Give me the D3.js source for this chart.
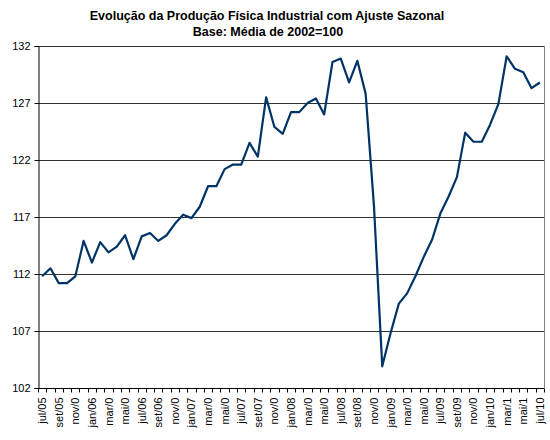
<!DOCTYPE html>
<html>
<head>
<meta charset="utf-8">
<script src="https://cdn.jsdelivr.net/npm/d3@7"></script>
<style>
  body { margin: 0; background: #fff; }
  svg text { font-family: "Liberation Sans", Arial, sans-serif; }
</style>
</head>
<body>
<script>
// monthly index, jul/05 .. jul/10
var months = ["jul/05","ago/05","set/05","out/05","nov/05","dez/05","jan/06","fev/06","mar/06","abr/06",
  "mai/06","jun/06","jul/06","ago/06","set/06","out/06","nov/06","dez/06","jan/07","fev/07",
  "mar/07","abr/07","mai/07","jun/07","jul/07","ago/07","set/07","out/07","nov/07","dez/07",
  "jan/08","fev/08","mar/08","abr/08","mai/08","jun/08","jul/08","ago/08","set/08","out/08",
  "nov/08","dez/08","jan/09","fev/09","mar/09","abr/09","mai/09","jun/09","jul/09","ago/09",
  "set/09","out/09","nov/09","dez/09","jan/10","fev/10","mar/10","abr/10","mai/10","jun/10","jul/10"];

var values = [111.8, 112.5, 111.2, 111.2, 111.8, 114.9, 113.0, 114.8, 113.9, 114.4,
  115.4, 113.3, 115.3, 115.6, 114.9, 115.4, 116.4, 117.2, 116.9, 117.9,
  119.7, 119.7, 121.2, 121.6, 121.6, 123.5, 122.3, 127.5, 124.9, 124.3,
  126.2, 126.2, 127.0, 127.4, 126.0, 130.6, 130.9, 128.8, 130.7, 127.8,
  118.0, 103.9, 106.8, 109.4, 110.3, 111.8, 113.5, 115.0, 117.3, 118.8,
  120.5, 124.4, 123.6, 123.6, 125.1, 126.9, 131.1, 130.0, 129.7, 128.3, 128.8];

// labels as shown on the axis (every second month)
var tickLabels = {0:"jul/05",2:"set/05",4:"nov/0",6:"jan/06",8:"mar/0",10:"mai/0",12:"jul/06",14:"set/06",
  16:"nov/0",18:"jan/07",20:"mar/0",22:"mai/0",24:"jul/07",26:"set/07",28:"nov/0",30:"jan/08",32:"mar/0",
  34:"mai/0",36:"jul/08",38:"set/08",40:"nov/0",42:"jan/09",44:"mar/0",46:"mai/0",48:"jul/09",50:"set/09",
  52:"nov/0",54:"jan/10",56:"mar/1",58:"mai/1",60:"jul/10"};

var yTicks = [102, 107, 112, 117, 122, 127, 132];

var margin = {top: 46, right: 6, bottom: 52, left: 38};
var W = 550, H = 440;
var width = W - margin.left - margin.right;
var height = H - margin.top - margin.bottom;

var svg = d3.select("body").append("svg")
  .attr("width", W).attr("height", H);

svg.append("text")
  .attr("x", 267).attr("y", 20)
  .attr("text-anchor", "middle")
  .attr("font-size", "12.5px").attr("font-weight", "bold")
  .text("Evolução da Produção Física Industrial com Ajuste Sazonal");
svg.append("text")
  .attr("x", 268).attr("y", 36)
  .attr("text-anchor", "middle")
  .attr("font-size", "12.5px").attr("font-weight", "bold")
  .text("Base: Média de 2002=100");

var g = svg.append("g")
  .attr("transform", "translate(" + margin.left + "," + margin.top + ")");

var x = d3.scaleBand().domain(d3.range(months.length)).range([0, width]);
var y = d3.scaleLinear().domain([102, 132]).range([height, 0]);

// gridlines
g.selectAll(".grid").data(yTicks.slice(1))
  .enter().append("line")
  .attr("x1", 0).attr("x2", width)
  .attr("y1", function(d) { return y(d) + 0.5; })
  .attr("y2", function(d) { return y(d) + 0.5; })
  .attr("stroke", "#333").attr("stroke-width", 1);

// right border
g.append("line")
  .attr("x1", width + 0.5).attr("x2", width + 0.5)
  .attr("y1", 0).attr("y2", height)
  .attr("stroke", "#808080");

// y axis
var yAxis = g.append("g")
  .attr("transform", "translate(0.5,0)")
  .call(d3.axisLeft(y).tickValues(yTicks).tickSize(4).tickPadding(4).tickFormat(d3.format("d")));
yAxis.selectAll("text").attr("font-size", "11px").attr("fill", "#000");
yAxis.selectAll("line, path").attr("stroke", "#000");

// x axis: ticks at category boundaries
var xa = g.append("g").attr("transform", "translate(0," + (height + 0.5) + ")");
xa.append("line").attr("x1", 0).attr("x2", width).attr("stroke", "#000");
xa.selectAll(".tk").data(d3.range(months.length + 1))
  .enter().append("line")
  .attr("x1", function(i) { return Math.round(i * x.step()) + 0.5; })
  .attr("x2", function(i) { return Math.round(i * x.step()) + 0.5; })
  .attr("y1", 0).attr("y2", 4)
  .attr("stroke", "#000");
xa.selectAll("text").data(d3.range(months.length).filter(function(i) { return tickLabels[i]; }))
  .enter().append("text")
  .attr("transform", function(i) {
    return "translate(" + (x(i) + x.bandwidth() / 2 + 4) + ",9) rotate(-90)";
  })
  .attr("text-anchor", "end")
  .attr("font-size", "11px")
  .text(function(i) { return tickLabels[i]; });

// series
var line = d3.line()
  .x(function(d, i) { return x(i) + x.bandwidth() / 2; })
  .y(function(d) { return y(d); });

g.append("path")
  .datum(values)
  .attr("d", line)
  .attr("fill", "none")
  .attr("stroke", "#003366")
  .attr("stroke-width", 2.2)
  .attr("stroke-linejoin", "round");
</script>
</body>
</html>
